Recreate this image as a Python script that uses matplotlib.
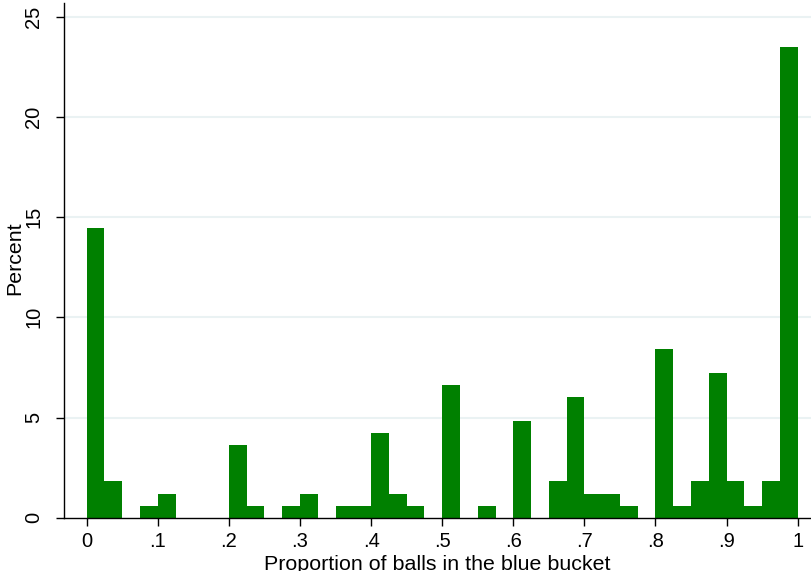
import numpy as np
import matplotlib
matplotlib.use('Agg')
import matplotlib.pyplot as plt

plt.rcParams['font.family'] = ['Liberation Sans', 'DejaVu Sans']

# histogram bins: 40 bins of width .025 on [0, 1]
bin_edges = np.linspace(0, 1, 41)
percent = [14.46, 1.81, 0, 0.60, 1.20, 0, 0, 0, 3.61, 0.60,
           0, 0.60, 1.20, 0, 0.60, 0.60, 4.22, 1.20, 0.60, 0,
           6.63, 0, 0.60, 0, 4.82, 0, 1.81, 6.02, 1.20, 1.20,
           0.60, 0, 8.43, 0.60, 1.81, 7.23, 1.81, 0.60, 1.81, 23.49]

x_ticks = [0, .1, .2, .3, .4, .5, .6, .7, .8, .9, 1]
x_ticklabels = ['0', '.1', '.2', '.3', '.4', '.5', '.6', '.7', '.8', '.9', '1']
y_ticks = [0, 5, 10, 15, 20, 25]

W, H = 811, 571
fig = plt.figure(figsize=(W / 100, H / 100), dpi=100)
ax = fig.add_axes([64 / W, (H - 517.7) / H, (W - 64) / W, (517.7 - 3.3) / H])

ax.bar(bin_edges[:-1], percent, width=np.diff(bin_edges), align='edge',
       color='#008000', linewidth=0, zorder=3)

ax.set_xlim(-0.0319, 1.0187)
ax.set_ylim(0, 25.67)

for y in y_ticks[1:]:
    ax.axhline(y, color='#eaf2f3', linewidth=1.5, zorder=1)

ax.set_xticks(x_ticks)
ax.set_xticklabels(x_ticklabels)
ax.set_yticks(y_ticks)
ax.set_yticklabels([str(v) for v in y_ticks], rotation=90, va='center')

ax.tick_params(axis='x', length=6, width=1, pad=4, labelsize=14.5)
ax.tick_params(axis='y', length=6, width=1, pad=9, labelsize=14.5)

for side in ['top', 'right']:
    ax.spines[side].set_visible(False)
for side in ['left', 'bottom']:
    ax.spines[side].set_linewidth(1.0)
    ax.spines[side].set_zorder(4)

# axis titles
fig.text(437.5 / W, 1.5 / H, 'Proportion of balls in the blue bucket',
         fontsize=15.4, ha='center', va='baseline')
fig.text(14.5 / W, 1 - 258 / H, 'Percent', fontsize=15.4, rotation=90,
         ha='center', va='center')

fig.savefig('out.png', dpi=100)
